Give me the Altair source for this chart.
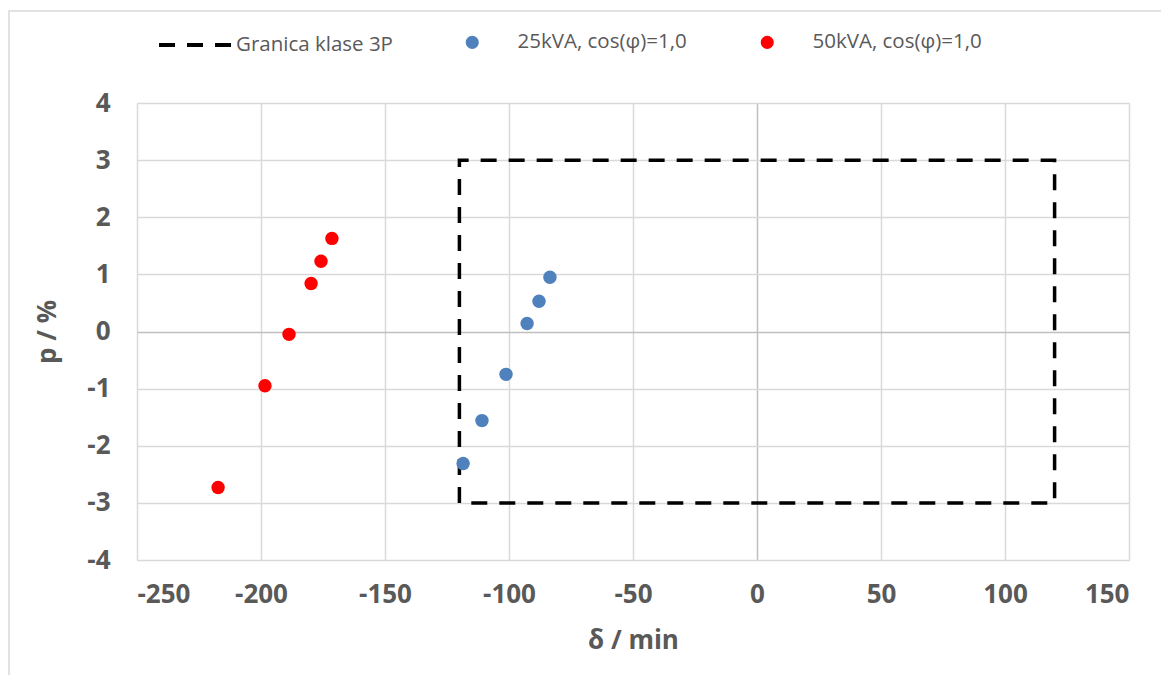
import altair as alt
import pandas as pd

# Data
delta_25 = [-118.5, -110.9, -101.2, -92.7, -87.9, -83.5]
p_25 = [-2.31, -1.56, -0.75, 0.14, 0.53, 0.95]
delta_50 = [-217.3, -198.4, -188.7, -179.8, -175.8, -171.4]
p_50 = [-2.73, -0.95, -0.05, 0.84, 1.23, 1.63]
box_delta = [-120, -120, 120, 120, -120]
box_p = [-3, 3, 3, -3, -3]
x_ticks = [-250, -200, -150, -100, -50, 0, 50, 100, 150]
y_ticks = [-4, -3, -2, -1, 0, 1, 2, 3, 4]

s25 = "25kVA, cos(φ)=1,0"
s50 = "50kVA, cos(φ)=1,0"
sbox = "Granica klase 3P"

pts = pd.DataFrame({
    "delta": delta_25 + delta_50,
    "p": p_25 + p_50,
    "series": [s25] * len(delta_25) + [s50] * len(delta_50),
})
box = pd.DataFrame({
    "delta": box_delta,
    "p": box_p,
    "order": list(range(len(box_delta))),
    "series": [sbox] * len(box_delta),
})

GREY = "#595959"
FONT = "Open Sans"

xscale = alt.Scale(domain=[-250, 150], nice=False, zero=False)
yscale = alt.Scale(domain=[-4, 4], nice=False, zero=False)

grid_color = {"condition": {"test": "datum.value === 0", "value": "#bfbfbf"}, "value": "#d9d9d9"}

xaxis = alt.Axis(
    values=x_ticks, title="δ / min", grid=True, ticks=False, domain=False,
    labelExpr="'' + datum.value",
    labelFont=FONT, labelFontSize=26, labelFontWeight="bold", labelColor=GREY, labelPadding=21,
    titleFont=FONT, titleFontSize=26, titleFontWeight="bold", titleColor=GREY,
    titleX=496, titleY=80, titleBaseline="middle", titleAlign="center",
    gridColor=grid_color, gridWidth=1.5,
)
yaxis = alt.Axis(
    values=y_ticks, title="p / %", grid=True, ticks=False, domain=False,
    labelExpr="'' + datum.value",
    labelFont=FONT, labelFontSize=26, labelFontWeight="bold", labelColor=GREY, labelPadding=27,
    titleFont=FONT, titleFontSize=26, titleFontWeight="bold", titleColor=GREY,
    titleX=-90, titleY=228.5, titleBaseline="middle", titleAlign="center", titleAngle=270,
    gridColor=grid_color, gridWidth=1.5,
)

border = alt.Chart(pd.DataFrame({"a": [0]})).mark_rect(
    fill=None, stroke="#d9d9d9", strokeWidth=1.5
).encode(
    x=alt.value(-128), x2=alt.value(1100), y=alt.value(-92), y2=alt.value(640)
)

box_chart = alt.Chart(box).mark_line(color="black", strokeWidth=3.5).encode(
    x=alt.X("delta:Q", scale=xscale, axis=xaxis),
    y=alt.Y("p:Q", scale=yscale, axis=yaxis),
    order="order:Q",
    strokeDash=alt.StrokeDash(
        "series:N",
        scale=alt.Scale(domain=[sbox], range=[[16, 12]]),
        legend=alt.Legend(
            title=None, orient="none", legendX=20, legendY=-96.5, padding=0,
            symbolType="stroke", symbolSize=5329, symbolStrokeWidth=4, symbolStrokeColor="black",
            labelFont=FONT, labelFontSize=20.5, labelColor=GREY, labelOffset=2, labelLimit=0,
        ),
    ),
)

points = alt.Chart(pts).mark_circle(size=180, opacity=1).encode(
    x=alt.X("delta:Q", scale=xscale, axis=xaxis),
    y=alt.Y("p:Q", scale=yscale, axis=yaxis),
    color=alt.Color(
        "series:N",
        scale=alt.Scale(domain=[s25, s50], range=["#4F81BD", "#FF0000"]),
        legend=alt.Legend(
            title=None, orient="none", legendX=325, legendY=-71, padding=0,
            direction="horizontal", columns=2, columnPadding=70,
            symbolType="circle", symbolSize=170, symbolOpacity=1,
            labelFont=FONT, labelFontSize=20.5, labelColor=GREY, labelOffset=35, labelLimit=0,
        ),
    ),
)

chart = alt.layer(border, box_chart, points).resolve_scale(
    color="independent", strokeDash="independent"
).properties(
    width=992, height=457,
    autosize=alt.AutoSizeParams(type="none"),
    padding={"left": 129, "top": 95, "right": 32, "bottom": 115},
).configure_view(
    stroke="#e6e2da", strokeWidth=1.5
).configure(background="white")

chart.save("out.html", embed_options={"renderer": "svg", "actions": False})
